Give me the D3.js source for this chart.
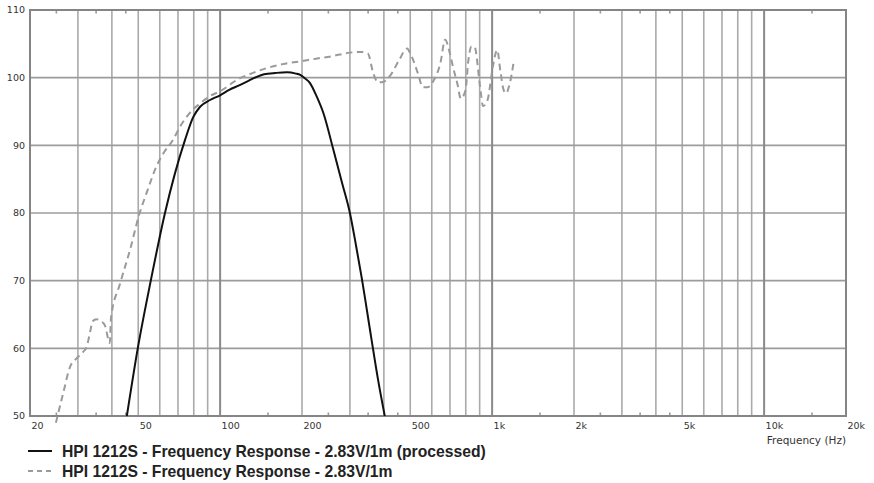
<!DOCTYPE html>
<html>
<head>
<meta charset="utf-8">
<script src="https://cdn.jsdelivr.net/npm/d3@7"></script>
<style>
  html, body { margin: 0; padding: 0; background: #fff; }
  svg { display: block; }
</style>
</head>
<body>
<svg id="chart" width="874" height="483"></svg>
<script>
// ---- Data ----
const processedFreq = [45.4, 49.8, 55.6, 62.7, 74.3, 79.7, 84.4, 91.8, 100, 108, 118, 128, 136, 145, 160, 176, 190, 197, 205, 214, 226, 240, 261, 280, 300, 315, 331, 359, 381, 403];
const processedDb   = [50, 60, 70, 80, 90.8, 94.2, 95.7, 96.7, 97.4, 98.2, 98.9, 99.6, 100.1, 100.5, 100.7, 100.8, 100.6, 100.4, 99.9, 99.2, 97.3, 94.7, 89.3, 84.6, 80, 75.5, 70.6, 61.7, 55.3, 50];

const rawFreq = [24.9, 26.5, 28.1, 29.3, 31.4, 32.3, 33.3, 34.0, 35.1, 36.5, 37.7, 39.3, 39.7, 42.9, 46.6, 50.6, 53.6, 58.2, 61.8, 67.1, 71.2, 77, 84.4, 92, 100, 118, 130, 148, 170, 196, 225, 260, 300, 331, 349, 366, 381, 399, 427, 455, 487, 500, 534, 556, 580, 611, 645, 672, 699, 718, 747, 767, 799, 817, 840, 861, 903, 926, 962, 1006, 1044, 1073, 1102, 1125, 1162, 1200];
const rawDb   = [49, 53.4, 57.3, 58.3, 59.5, 60.2, 62.5, 64.0, 64.3, 64.0, 63.4, 60.8, 64.5, 69.6, 74.5, 80, 82.9, 86.8, 88.8, 90.8, 92.75, 94.7, 96.2, 97.3, 98.0, 99.9, 100.6, 101.4, 102.0, 102.4, 102.8, 103.2, 103.7, 103.8, 103.6, 100.6, 99.3, 99.4, 100.6, 102.6, 104.3, 103.6, 100.6, 98.6, 98.6, 99.65, 102.1, 105.6, 103.6, 101.6, 98.9, 96.9, 98.2, 102.4, 104.6, 104.6, 98.7, 95.8, 96.7, 101.6, 104.1, 100.9, 98.2, 97.7, 99.2, 102.3];

const xTickValues = [20, 50, 100, 200, 500, 1000, 2000, 5000, 10000, 20000];
const xTickLabels = ["20", "50", "100", "200", "500", "1k", "2k", "5k", "10k", "20k"];
const xGridMinor  = [30, 40, 50, 60, 70, 80, 90, 200, 300, 400, 500, 600, 700, 800, 900, 2000, 3000, 4000, 5000, 6000, 7000, 8000, 9000];
const xGridMajor  = [100, 1000, 10000];
const xStubValues = [25, 35, 45, 150, 250, 350, 450, 1500, 2500, 3500, 4500, 15000];
const yTickValues = [50, 60, 70, 80, 90, 100, 110];
const yGridValues = [60, 70, 80, 90, 100];

const legendLabels = [
  "HPI 1212S - Frequency Response - 2.83V/1m (processed)",
  "HPI 1212S - Frequency Response - 2.83V/1m"
];
const xAxisTitle = "Frequency  (Hz)";

// ---- Drawing ----
const svg = d3.select("#chart");
const pL = 30, pR = 846, pT = 10, pB = 416;

const x = d3.scaleLog().domain([20, 20000]).range([pL, pR]);
const y = d3.scaleLinear().domain([50, 110]).range([pB, pT]);

svg.append("rect").attr("width", 874).attr("height", 483).attr("fill", "#fff");

const grid = svg.append("g");
grid.selectAll("line.vmin").data(xGridMinor).join("line")
  .attr("x1", d => x(d)).attr("x2", d => x(d))
  .attr("y1", pT).attr("y2", pB)
  .attr("stroke", "#aaaaaa").attr("stroke-width", 1.6);
grid.selectAll("line.hgrid").data(yGridValues).join("line")
  .attr("x1", pL).attr("x2", pR)
  .attr("y1", d => y(d)).attr("y2", d => y(d))
  .attr("stroke", "#9c9c9c").attr("stroke-width", 1.6);
grid.selectAll("line.vmaj").data(xGridMajor).join("line")
  .attr("x1", d => x(d)).attr("x2", d => x(d))
  .attr("y1", pT).attr("y2", pB)
  .attr("stroke", "#8a8a8a").attr("stroke-width", 2);

// stubs top and bottom
grid.selectAll("line.stubT").data(xStubValues).join("line")
  .attr("x1", d => x(d)).attr("x2", d => x(d))
  .attr("y1", pT).attr("y2", pT + 3.5)
  .attr("stroke", "#999").attr("stroke-width", 1.6);
grid.selectAll("line.stubB").data(xStubValues).join("line")
  .attr("x1", d => x(d)).attr("x2", d => x(d))
  .attr("y1", pB - 3.5).attr("y2", pB)
  .attr("stroke", "#999").attr("stroke-width", 1.6);

// border
svg.append("rect")
  .attr("x", pL).attr("y", pT)
  .attr("width", pR - pL).attr("height", pB - pT)
  .attr("fill", "none").attr("stroke", "#858585").attr("stroke-width", 2);

// axis labels
const labelFont = "'DejaVu Sans', Verdana, sans-serif";
svg.append("g").selectAll("text").data(yTickValues).join("text")
  .attr("x", 25).attr("y", d => y(d)).attr("dy", "0.35em")
  .attr("text-anchor", "end")
  .attr("font-family", labelFont).attr("font-size", 9.5)
  .attr("fill", "#333").text(d => d);

svg.append("g").selectAll("text").data(xTickValues).join("text")
  .attr("x", d => x(d) + 1.5).attr("y", 429)
  .attr("text-anchor", "start")
  .attr("font-family", labelFont).attr("font-size", 9.5)
  .attr("fill", "#333").text((d, i) => xTickLabels[i]);

svg.append("text")
  .attr("x", pR).attr("y", 443.5)
  .attr("text-anchor", "end")
  .attr("font-family", labelFont).attr("font-size", 10.5)
  .attr("fill", "#333").text(xAxisTitle);

// curves
const line = d3.line().curve(d3.curveMonotoneX)
  .x(d => x(d[0])).y(d => y(d[1]));

const rawPts = rawFreq.map((f, i) => [f, rawDb[i]]);
const procPts = processedFreq.map((f, i) => [f, processedDb[i]]);

svg.append("path").datum(rawPts)
  .attr("d", line).attr("fill", "none")
  .attr("stroke", "#9a9a9a").attr("stroke-width", 2)
  .attr("stroke-dasharray", "6.5,4.5");

svg.append("path").datum(procPts)
  .attr("d", line).attr("fill", "none")
  .attr("stroke", "#111").attr("stroke-width", 2);

// legend
const legend = svg.append("g");
const legendStyles = [
  { color: "#111", dash: null },
  { color: "#9a9a9a", dash: "5,4" }
];
legend.selectAll("line").data(legendLabels).join("line")
  .attr("x1", 28).attr("x2", 52)
  .attr("y1", (d, i) => 451 + i * 20).attr("y2", (d, i) => 451 + i * 20)
  .attr("stroke", (d, i) => legendStyles[i].color)
  .attr("stroke-width", 2)
  .attr("stroke-dasharray", (d, i) => legendStyles[i].dash);
legend.selectAll("text").data(legendLabels).join("text")
  .attr("x", 62).attr("y", (d, i) => 451 + i * 20).attr("dy", "0.36em")
  .attr("font-family", "'Liberation Sans', Arial, Helvetica, sans-serif")
  .attr("font-weight", "bold").attr("font-size", 15.7)
  .attr("fill", "#222").text(d => d);
</script>
</body>
</html>
